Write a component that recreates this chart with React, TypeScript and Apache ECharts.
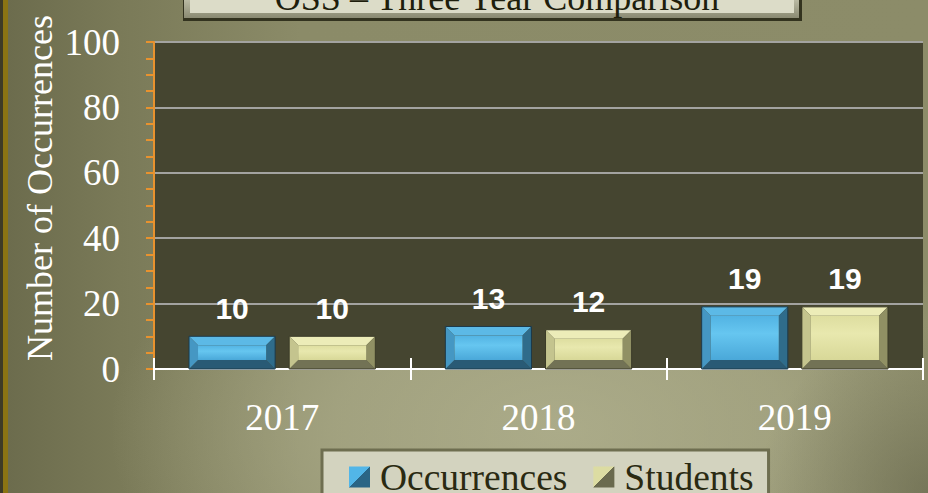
import React, { useEffect, useRef } from "react";
import * as echarts from "echarts";

const categories = ["2017", "2018", "2019"];
const occurrences = [10, 13, 19];
const students = [10, 12, 19];
const seriesNames = ["Occurrences", "Students"];
const titleText = "OSS – Three Year Comparison";
const yAxisName = "Number of Occurrences";
const yMin = 0;
const yMax = 100;
const yInterval = 20;

const SERIF = "'Liberation Serif', 'Times New Roman', serif";
const SANS = "'Liberation Sans', Arial, sans-serif";

const palettes = [
  {
    top: "#5cb9e6",
    left: "#4597c3",
    right: "#2f6c8b",
    bottom: "#295a75",
    face: ["#52b3e3", "#66c6f0", "#4aa8d9"],
    outline: "#1d3a4a",
    iconA: "#52b6e8",
    iconB: "#2a6585",
  },
  {
    top: "#ececb8",
    left: "#c4c48e",
    right: "#909064",
    bottom: "#727255",
    face: ["#dedea0", "#e8e8ae", "#d8d898"],
    outline: "#3b3b28",
    iconA: "#dcdca2",
    iconB: "#6a6a4e",
  },
];

const BAR_RATIO = 0.336;
const GAP_RATIO = 0.163;

function makeRenderItem(idx: number) {
  const pal = palettes[idx];
  return (params: any, api: any) => {
    const ci = api.value(0);
    const v = api.value(1);
    const band = api.size([1, 0])[0];
    const bw = band * BAR_RATIO;
    const gap = bw * GAP_RATIO;
    const off = (idx === 0 ? -1 : 1) * (gap / 2 + bw / 2);
    const p0 = api.coord([ci, 0]);
    const p1 = api.coord([ci, v]);
    const cx = p0[0] + off;
    const y0 = p0[1];
    const y1 = p1[1];
    const x0 = cx - bw / 2;
    const x1 = cx + bw / 2;
    const h = y0 - y1;
    const b = Math.min(9, h / 3, bw / 3);
    const poly = (pts: number[][], fill: string) => ({
      type: "polygon",
      shape: { points: pts },
      style: { fill },
    });
    return {
      type: "group",
      children: [
        poly([[x0, y1], [x1, y1], [x1 - b, y1 + b], [x0 + b, y1 + b]], pal.top),
        poly([[x0, y0], [x1, y0], [x1 - b, y0 - b], [x0 + b, y0 - b]], pal.bottom),
        poly([[x0, y1], [x0 + b, y1 + b], [x0 + b, y0 - b], [x0, y0]], pal.left),
        poly([[x1, y1], [x1 - b, y1 + b], [x1 - b, y0 - b], [x1, y0]], pal.right),
        {
          type: "rect",
          shape: { x: x0 + b, y: y1 + b, width: bw - 2 * b, height: Math.max(0, h - 2 * b) },
          style: {
            fill: new echarts.graphic.LinearGradient(0, 0, 0, 1, [
              { offset: 0, color: pal.face[0] },
              { offset: 0.4, color: pal.face[1] },
              { offset: 1, color: pal.face[2] },
            ]),
          },
        },
        {
          type: "rect",
          shape: { x: x0, y: y1, width: bw, height: h },
          style: { fill: "none", stroke: pal.outline, lineWidth: 1 },
        },
        {
          type: "text",
          x: cx,
          y: y1 - 28,
          style: {
            text: String(v),
            fill: "#ffffff",
            font: `bold 30px ${SANS}`,
            textAlign: "center",
            textVerticalAlign: "middle",
          },
        },
      ],
    };
  };
}

function iconGradient(idx: number) {
  const pal = palettes[idx];
  return new echarts.graphic.LinearGradient(0, 0, 1, 1, [
    { offset: 0, color: pal.iconA },
    { offset: 0.5, color: pal.iconA },
    { offset: 0.5, color: pal.iconB },
    { offset: 1, color: pal.iconB },
  ]);
}

export default function App() {
  const ref = useRef<HTMLDivElement>(null);

  useEffect(() => {
    document.body.style.margin = "0";
    if (!ref.current) return;
    const chart = echarts.init(ref.current, undefined, { renderer: "svg" });
    const seriesData = [occurrences, students];
    chart.setOption({
      animation: false,
      backgroundColor: "transparent",
      title: {
        text: titleText,
        left: 492,
        top: -25,
        textAlign: "center",
        z: 10,
        textStyle: {
          fontFamily: SERIF,
          fontSize: 36,
          fontWeight: "normal",
          color: "#1e1e0c",
        },
      },
      graphic: [
        {
          type: "rect",
          z: 1,
          shape: { x: 183, y: -10, width: 619, height: 31 },
          style: { fill: "#33331f" },
        },
        {
          type: "rect",
          z: 1,
          shape: { x: 184, y: -10, width: 615, height: 28 },
          style: {
            fill: new echarts.graphic.LinearGradient(0, 0, 0, 1, [
              { offset: 0, color: "#d4d4be" },
              { offset: 1, color: "#8a8a72" },
            ]),
          },
        },
        {
          type: "rect",
          z: 1,
          shape: { x: 190, y: -10, width: 604, height: 23 },
          style: { fill: "#dcdcc8" },
        },
        {
          type: "text",
          z: 1,
          x: 40,
          y: 188,
          rotation: Math.PI / 2,
          style: {
            text: yAxisName,
            fill: "#ffffff",
            font: `36px ${SERIF}`,
            textAlign: "center",
            textVerticalAlign: "middle",
          },
        },
      ],
      legend: {
        left: 322,
        top: 450,
        orient: "horizontal",
        padding: [8, 15, 30, 27],
        backgroundColor: "#d3d3bf",
        borderColor: "#6e6e50",
        borderWidth: 3,
        borderRadius: 0,
        itemWidth: 21,
        itemHeight: 21,
        itemGap: 26,
        icon: "rect",
        textStyle: {
          fontFamily: SERIF,
          fontSize: 37.5,
          color: "#2a2a12",
          padding: [0, 0, 0, 5],
        },
        data: seriesNames.map((n, i) => ({
          name: n,
          itemStyle: { color: iconGradient(i) },
        })),
      },
      grid: {
        left: 154,
        right: 5,
        top: 42,
        bottom: 124,
        show: true,
        backgroundColor: "#454530",
        borderWidth: 0,
      },
      xAxis: [
        {
          type: "category",
          data: categories,
          position: "bottom",
          axisLine: { show: true, lineStyle: { color: "#ffffff", width: 2 } },
          axisTick: { show: true, length: 11, lineStyle: { color: "#ffffff", width: 2 } },
          axisLabel: {
            color: "#ffffff",
            fontFamily: SERIF,
            fontSize: 37,
            margin: 30,
          },
          splitLine: { show: false },
        },
        {
          type: "category",
          data: categories,
          position: "bottom",
          axisLine: { show: false },
          axisTick: { show: true, inside: true, length: 11, lineStyle: { color: "#ffffff", width: 2 } },
          axisLabel: { show: false },
          splitLine: { show: false },
        },
      ],
      yAxis: {
        type: "value",
        min: yMin,
        max: yMax,
        interval: yInterval,
        axisLine: { show: true, lineStyle: { color: "#e8922e", width: 2 } },
        axisTick: { show: true, length: 8, lineStyle: { color: "#e8922e", width: 2 } },
        minorTick: { show: true, splitNumber: 4, length: 8, lineStyle: { color: "#e8922e", width: 2 } },
        axisLabel: {
          color: "#ffffff",
          fontFamily: SERIF,
          fontSize: 37,
          margin: 34,
        },
        splitLine: { show: true, lineStyle: { color: "#a3a3a0", width: 2 } },
      },
      series: seriesNames.map((name, i) => ({
        name,
        type: "custom",
        xAxisIndex: 0,
        yAxisIndex: 0,
        itemStyle: { color: palettes[i].iconA },
        data: seriesData[i].map((v, ci) => [ci, v]),
        encode: { x: 0, y: 1 },
        renderItem: makeRenderItem(i),
        z: 5,
      })),
    });
    return () => chart.dispose();
  }, []);

  return (
    <div
      ref={ref}
      style={{
        position: "fixed",
        left: 0,
        top: 0,
        width: 928,
        height: 493,
        background:
          "radial-gradient(circle 170px at 928px 493px, rgba(95,95,70,0.55), rgba(95,95,70,0) 100%), " +
          "radial-gradient(ellipse 450px 260px at 560px 430px, rgba(180,180,146,0.78) 0%, rgba(180,180,146,0.55) 50%, rgba(180,180,146,0) 100%), " +
          "linear-gradient(to right, #3e3b26 0px, #3e3b26 3px, #8b7413 3px, #8b7413 8px, #6c6c4d 8px, #7a7a58 120px, #8b8b68 300px, #8c8c69 928px)",
      }}
    />
  );
}
